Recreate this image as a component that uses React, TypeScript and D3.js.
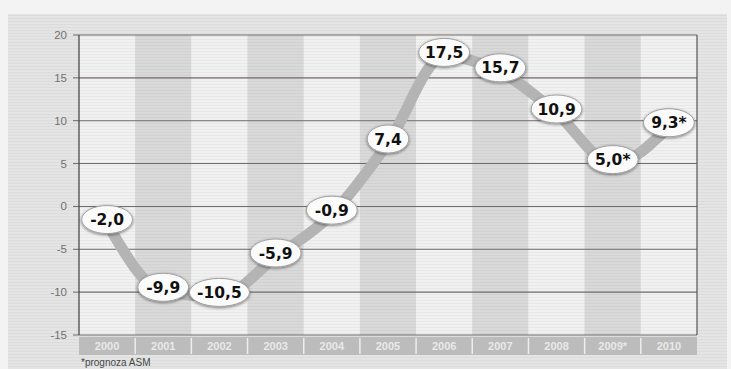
import React from "react";
import * as d3 from "d3";

const years = ["2000", "2001", "2002", "2003", "2004", "2005", "2006", "2007", "2008", "2009", "2010"];
const yearLabels = ["2000", "2001", "2002", "2003", "2004", "2005", "2006", "2007", "2008", "2009*", "2010"];
const values = [-2.0, -9.9, -10.5, -5.9, -0.9, 7.4, 17.5, 15.7, 10.9, 5.0, 9.3];
const valueLabels = ["-2,0", "-9,9", "-10,5", "-5,9", "-0,9", "7,4", "17,5", "15,7", "10,9", "5,0*", "9,3*"];
const yTicks = [20, 15, 10, 5, 0, -5, -10, -15];
const footnote = "*prognoza ASM";

const W = 731;
const H = 369;
const M = { left: 79, right: 34, top: 35, bottom: 34 };

export default function App() {
  const x = d3.scaleBand<string>().domain(years).range([M.left, W - M.right]).padding(0);
  const y = d3.scaleLinear().domain([-15, 20]).range([H - M.bottom, M.top]);
  const pts: [number, number][] = values.map((v, i) => [x(years[i])! + x.bandwidth() / 2, y(v)]);
  const line = d3.line().curve(d3.curveMonotoneX)(pts) || "";
  const plotW = W - M.right - M.left;
  const labelFont = "'DejaVu Sans', sans-serif";

  return (
    <svg width={W} height={H} style={{ position: "absolute", left: 0, top: 0 }} xmlns="http://www.w3.org/2000/svg">
      <defs>
        <filter id="sh" x="-30%" y="-40%" width="160%" height="180%">
          <feGaussianBlur in="SourceAlpha" stdDeviation="1.8" />
          <feOffset dx="0" dy="1" result="b" />
          <feComponentTransfer><feFuncA type="linear" slope="0.5" /></feComponentTransfer>
          <feMerge><feMergeNode /><feMergeNode in="SourceGraphic" /></feMerge>
        </filter>
        <pattern id="scan" width="4" height="3" patternUnits="userSpaceOnUse">
          <rect width="4" height="1" fill="#000" opacity="0.035" />
        </pattern>
      </defs>
      <rect x={0} y={0} width={W} height={H} fill="#f3f3f3" />
      <rect x={8} y={14} width={W - 12} height={H - 14} fill="#e4e4e4" />
      {years.map((yr, i) => (
        <rect key={yr} x={x(yr)} y={M.top} width={x.bandwidth()} height={y(-15) - M.top}
          fill={i % 2 === 1 ? "#d9d9d9" : "#f1f1f1"} />
      ))}
      <rect x={8} y={14} width={W - 12} height={H - 14} fill="url(#scan)" />
      {yTicks.map((t) => (
        <g key={t}>
          <line x1={M.left} x2={W - M.right} y1={y(t)} y2={y(t)} stroke="#726a6a" strokeWidth={1.1} />
          <line x1={M.left - 6} x2={M.left} y1={y(t)} y2={y(t)} stroke="#6a6a6a" strokeWidth={1} />
          <text x={M.left - 12} y={y(t)} dy="0.35em" textAnchor="end" fontSize={11.5}
            fontFamily="'Liberation Sans', Arial, sans-serif" fill="#707070">{t}</text>
        </g>
      ))}
      <line x1={M.left} x2={M.left} y1={M.top} y2={y(-15)} stroke="#4a4a4a" strokeWidth={1.3} />
      <line x1={W - M.right} x2={W - M.right} y1={M.top} y2={y(-15)} stroke="#555" strokeWidth={1.2} />
      <rect x={M.left} y={y(-15) + 2} width={plotW} height={18} fill="#bcbcbc" />
      {years.map((yr, i) => (
        <g key={"xl" + yr}>
          {i > 0 && <line x1={x(yr)} x2={x(yr)} y1={y(-15) + 3} y2={y(-15) + 19} stroke="#eeeeee" strokeWidth={1.5} />}
          <text x={x(yr)! + x.bandwidth() / 2} y={y(-15) + 15} textAnchor="middle" fontSize={11} fontWeight="bold"
            fontFamily="'Liberation Sans', Arial, sans-serif" fill="#e9e9e9">{yearLabels[i]}</text>
        </g>
      ))}
      <text x={M.left + 2} y={H - 3} fontSize={10} fontFamily="'Liberation Sans', Arial, sans-serif" fill="#444">{footnote}</text>
      <path d={line} fill="none" stroke="#b4b4b4" strokeWidth={11} strokeLinecap="round" strokeLinejoin="round" />
      {pts.map(([px, py], i) => {
        const lbl = valueLabels[i];
        const rx = lbl.length * 4.6 + 7;
        return (
          <g key={"lb" + i} transform={`translate(${px},${py - 4})`}>
            <ellipse rx={rx} ry={14} fill="#fbfbfb" stroke="#a0a0a0" strokeWidth={1} filter="url(#sh)" />
            <text y={0} dy="0.36em" textAnchor="middle" fontSize={15.5} fontWeight="bold" fontFamily={labelFont} fill="#111">{lbl}</text>
          </g>
        );
      })}
    </svg>
  );
}
